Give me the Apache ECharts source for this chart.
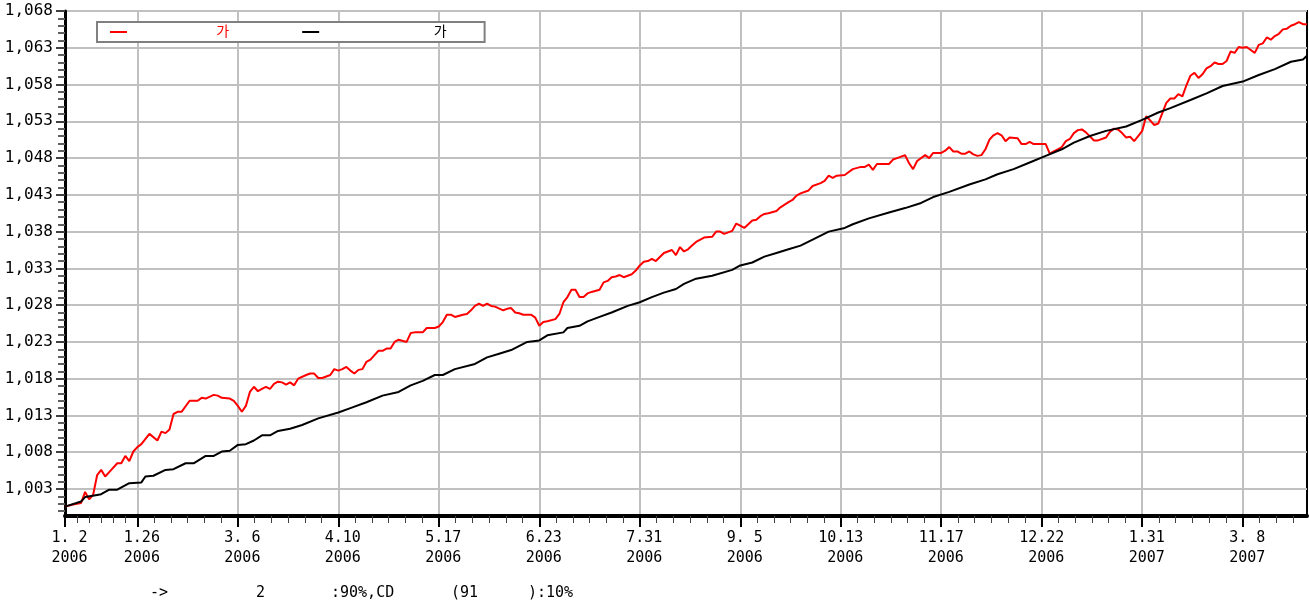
<!DOCTYPE html>
<html><head><meta charset="utf-8">
<script src="https://cdn.jsdelivr.net/npm/echarts@6/dist/echarts.min.js"></script>
<style>html,body{margin:0;padding:0;background:#fff}#c{width:1309px;height:606px}</style>
</head><body><div id="c"></div>
<script>
// x axis: trading-day index, with date tick labels
const xTickIdx   = [0, 18, 43, 68, 93, 118, 143, 168, 193, 218, 243, 268, 293];
const xTickDates = [' 1. 2',' 1.26',' 3. 6',' 4.10',' 5.17',' 6.23',' 7.31',' 9. 5','10.13','11.17','12.22',' 1.31',' 3. 8'];
const xTickYears = [' 2006',' 2006',' 2006',' 2006',' 2006',' 2006',' 2006',' 2006',' 2006',' 2006',' 2006',' 2007',' 2007'];
const yTickValues = [1003,1008,1013,1018,1023,1028,1033,1038,1043,1048,1053,1058,1063,1068];
const legendNames = ['          가', '             가'];
const footParts = ['->', '2', ':90%,CD', '(91', '):10%'];

// red series
const redIdx = [0,2,4,5,6,7,8,9,10,11,13,14,15,16,17,18,19,21,23,24,25,26,27,28,29,31,33,34,35,37,38,39,41,42,43,44,45,46,47,48,49,50,51,52,53,54,55,56,57,58,60,61,62,63,64,66,67,68,69,70,71,72,73,74,75,76,77,78,79,80,81,82,83,85,86,87,89,90,92,93,94,95,96,97,99,100,101,102,103,104,105,106,107,109,110,111,112,113,114,116,117,118,119,120,122,123,124,125,126,127,128,129,130,131,133,134,135,136,137,138,139,141,142,143,144,145,146,147,149,150,151,152,153,154,155,156,157,159,161,162,163,164,166,167,168,169,171,172,173,174,175,177,178,180,181,182,183,185,186,188,189,190,191,192,194,195,196,198,199,200,201,202,204,205,206,207,209,210,211,212,214,215,216,218,219,220,221,222,223,224,225,226,227,228,229,230,231,232,233,234,235,237,238,239,240,241,243,244,245,246,247,248,249,250,251,252,253,254,256,257,259,260,261,262,263,264,265,266,267,268,269,271,272,273,274,275,276,277,278,279,280,281,282,283,284,285,286,287,288,289,290,291,292,293,294,295,296,297,298,299,300,301,302,303,304,305,306,307,308,309];
const redVal = [1000.6,1000.9,1001.1,1002.6,1001.6,1002.2,1004.9,1005.6,1004.7,1005.3,1006.5,1006.5,1007.5,1006.8,1008.1,1008.7,1009.1,1010.5,1009.6,1010.8,1010.6,1011.1,1013.2,1013.5,1013.5,1015.0,1015.0,1015.4,1015.3,1015.8,1015.7,1015.4,1015.3,1015.0,1014.3,1013.5,1014.3,1016.2,1016.9,1016.3,1016.6,1016.9,1016.6,1017.3,1017.6,1017.5,1017.2,1017.5,1017.1,1018.0,1018.5,1018.7,1018.7,1018.1,1018.1,1018.5,1019.3,1019.1,1019.3,1019.6,1019.1,1018.7,1019.2,1019.3,1020.3,1020.6,1021.2,1021.8,1021.8,1022.1,1022.1,1023.0,1023.3,1023.0,1024.2,1024.3,1024.3,1024.9,1024.9,1025.1,1025.7,1026.7,1026.7,1026.4,1026.7,1026.8,1027.3,1027.9,1028.2,1027.9,1028.2,1027.9,1027.8,1027.3,1027.5,1027.6,1027.0,1026.9,1026.7,1026.7,1026.3,1025.2,1025.7,1025.8,1026.1,1026.8,1028.4,1029.1,1030.1,1030.1,1029.1,1029.1,1029.6,1029.8,1030.1,1031.1,1031.3,1031.8,1031.9,1032.1,1031.8,1032.2,1032.7,1033.4,1033.9,1034.0,1034.3,1034.0,1035.1,1035.3,1035.5,1034.8,1035.9,1035.3,1035.6,1036.1,1036.6,1037.2,1037.3,1038.0,1038.0,1037.7,1038.1,1039.1,1038.8,1038.5,1039.5,1039.6,1040.1,1040.4,1040.5,1040.8,1041.3,1042.0,1042.3,1042.9,1043.2,1043.6,1044.2,1044.6,1044.9,1045.6,1045.3,1045.6,1045.7,1046.1,1046.5,1046.8,1046.8,1047.1,1046.4,1047.2,1047.2,1047.2,1047.8,1048.0,1048.4,1047.3,1046.5,1047.6,1048.4,1048.0,1048.7,1048.7,1049.0,1049.5,1048.9,1048.9,1048.6,1048.6,1048.9,1048.5,1048.3,1048.4,1049.2,1050.5,1051.1,1051.4,1051.1,1050.3,1050.8,1050.7,1049.9,1049.9,1050.2,1049.9,1049.9,1049.9,1048.6,1048.9,1049.2,1049.5,1050.3,1050.6,1051.4,1051.8,1051.9,1051.5,1050.4,1050.4,1050.8,1051.6,1052.0,1051.9,1051.4,1050.8,1050.9,1050.3,1051.0,1051.7,1053.7,1052.5,1052.7,1054.1,1055.5,1056.1,1056.1,1056.7,1056.4,1057.9,1059.2,1059.6,1058.9,1059.4,1060.2,1060.5,1061.0,1060.8,1060.8,1061.2,1062.5,1062.3,1063.1,1063.0,1063.1,1062.7,1062.3,1063.4,1063.6,1064.4,1064.1,1064.6,1064.9,1065.5,1065.6,1066.0,1066.2,1066.5,1066.2,1066.2];

// black series
const blackIdx = [0,4,5,8,9,11,13,16,19,20,22,25,27,30,32,35,37,39,41,43,45,47,49,51,53,56,59,63,68,71,75,79,83,86,89,92,94,97,102,105,108,111,115,118,120,124,125,128,130,133,136,140,143,146,149,152,154,157,161,166,168,171,174,177,180,183,186,190,194,196,200,205,209,213,216,220,225,229,232,236,240,244,248,251,255,259,264,268,272,275,280,284,288,293,297,301,305,308,309];
const blackVal = [1000.6,1001.3,1001.9,1002.2,1002.3,1002.9,1002.9,1003.8,1003.9,1004.7,1004.8,1005.6,1005.7,1006.5,1006.5,1007.5,1007.5,1008.1,1008.2,1009.0,1009.1,1009.6,1010.3,1010.3,1010.9,1011.2,1011.7,1012.6,1013.4,1014.0,1014.8,1015.7,1016.2,1017.1,1017.7,1018.5,1018.5,1019.3,1020.0,1020.9,1021.4,1021.9,1023.0,1023.2,1023.9,1024.3,1024.9,1025.2,1025.8,1026.4,1027.0,1027.9,1028.4,1029.1,1029.7,1030.2,1030.9,1031.6,1032.0,1032.8,1033.4,1033.8,1034.6,1035.1,1035.6,1036.1,1036.9,1038.0,1038.5,1039.0,1039.8,1040.6,1041.2,1041.9,1042.7,1043.4,1044.4,1045.1,1045.8,1046.5,1047.4,1048.3,1049.2,1050.1,1051.0,1051.7,1052.3,1053.2,1054.2,1054.8,1055.9,1056.8,1057.8,1058.4,1059.3,1060.1,1061.1,1061.4,1061.9];

const X_MAX = 309, Y_MIN = 999.33, Y_MAX = 1068;
const MONO = "'DejaVu Sans Mono', 'Noto Sans CJK KR', monospace";

// minor tick positions (6 per labelled interval)
const xMinor = [];
xTickIdx.forEach((t, i) => {
  const next = i + 1 < xTickIdx.length ? xTickIdx[i + 1] : t + 25;
  const step = (next - t) / 6;
  for (let k = 1; k < 6; k++) { const v = t + step * k; if (v <= X_MAX) xMinor.push(v); }
});
const yMinor = [];
for (let v = 1000; v <= 1068; v++) if (yTickValues.indexOf(v) < 0) yMinor.push(v);

const chart = echarts.init(document.getElementById('c'), null, {renderer: 'canvas'});
chart.setOption({
  animation: false,
  backgroundColor: '#fff',
  grid: {left: 65, right: 2, top: 11, bottom: 90, show: true, borderColor: '#000', borderWidth: 2, backgroundColor: '#fff', outerBoundsMode: 'none'},
  legend: {
    left: 97, top: 22, orient: 'horizontal',
    backgroundColor: '#fff', borderColor: '#808080', borderWidth: 2, borderRadius: 0,
    padding: [3, 38, 3, 13], itemGap: 73, itemWidth: 17, itemHeight: 2, icon: 'rect',
    textStyle: {fontFamily: MONO, fontSize: 14, color: '#000'},
    data: [
      {name: legendNames[0], textStyle: {color: '#ff0000'}},
      {name: legendNames[1], textStyle: {color: '#000'}}
    ],
    selectedMode: false
  },
  xAxis: [
    {
      type: 'value', min: 0, max: X_MAX, position: 'bottom',
      axisLine: {show: true, onZero: false, lineStyle: {color: '#000', width: 4}},
      axisTick: {show: true, customValues: xTickIdx, length: 11, lineStyle: {color: '#000', width: 2}},
      axisLabel: {
        customValues: xTickIdx, color: '#000', fontFamily: MONO, fontSize: 15, lineHeight: 20, margin: 12, align: 'center',
        formatter: v => { const i = xTickIdx.indexOf(v); return i < 0 ? '' : xTickDates[i] + '\n' + xTickYears[i]; }
      },
      splitLine: {show: true, lineStyle: {color: '#c0c0c0', width: 2}}
    },
    {
      type: 'value', min: 0, max: X_MAX, position: 'bottom',
      axisLine: {show: false},
      axisTick: {show: true, customValues: xMinor, length: 7, lineStyle: {color: '#404040', width: 1}},
      axisLabel: {show: false}, splitLine: {show: false}
    }
  ],
  yAxis: [
    {
      type: 'value', min: Y_MIN, max: Y_MAX, position: 'left',
      axisLine: {show: true, onZero: false, lineStyle: {color: '#000', width: 3}},
      axisTick: {show: true, customValues: yTickValues, length: 9, lineStyle: {color: '#404040', width: 2}},
      axisLabel: {
        customValues: yTickValues, color: '#000', fontFamily: MONO, fontSize: 16, margin: 12,
        formatter: v => Number(v).toLocaleString('en-US')
      },
      splitLine: {show: true, lineStyle: {color: '#c0c0c0', width: 2}}
    },
    {
      type: 'value', min: Y_MIN, max: Y_MAX, position: 'left',
      axisLine: {show: false},
      axisTick: {show: true, customValues: yMinor, length: 7, lineStyle: {color: '#606060', width: 2}},
      axisLabel: {show: false}, splitLine: {show: false}
    }
  ],
  series: [
    {
      name: legendNames[0], type: 'line', xAxisIndex: 0, yAxisIndex: 0,
      showSymbol: false, symbol: 'none', color: '#ff0000',
      lineStyle: {color: '#ff0000', width: 2},
      data: redIdx.map((d, i) => [d, redVal[i]])
    },
    {
      name: legendNames[1], type: 'line', xAxisIndex: 0, yAxisIndex: 0,
      showSymbol: false, symbol: 'none', color: '#000',
      lineStyle: {color: '#000', width: 2},
      data: blackIdx.map((d, i) => [d, blackVal[i]])
    }
  ],
  graphic: [
    {type: 'text', left: 150, top: 586, style: {text: footParts[0], fontFamily: MONO, fontSize: 15, fill: '#000'}},
    {type: 'text', left: 256, top: 586, style: {text: footParts[1], fontFamily: MONO, fontSize: 15, fill: '#000'}},
    {type: 'text', left: 331, top: 586, style: {text: footParts[2], fontFamily: MONO, fontSize: 15, fill: '#000'}},
    {type: 'text', left: 451, top: 586, style: {text: footParts[3], fontFamily: MONO, fontSize: 15, fill: '#000'}},
    {type: 'text', left: 528, top: 586, style: {text: footParts[4], fontFamily: MONO, fontSize: 15, fill: '#000'}}
  ]
});
</script>
</body></html>
